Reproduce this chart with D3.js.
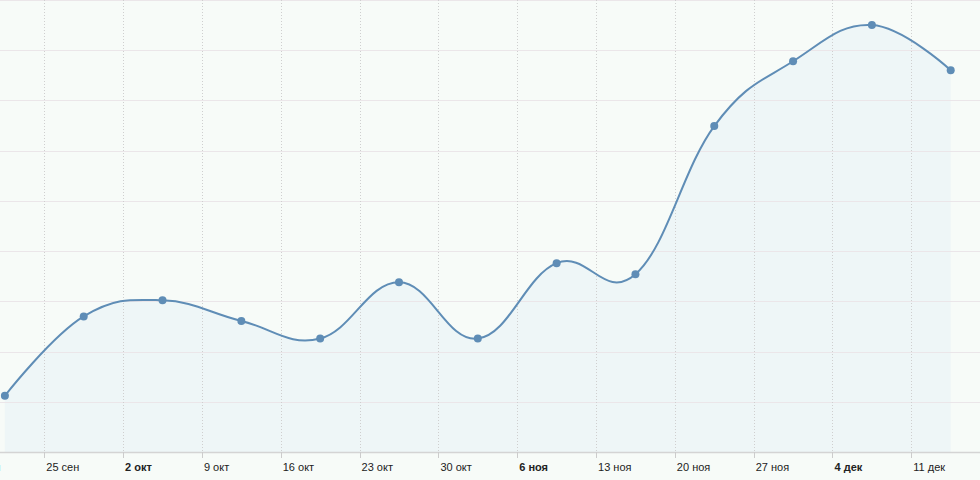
<!DOCTYPE html>
<html>
<head>
<meta charset="utf-8">
<script src="https://cdn.jsdelivr.net/npm/d3@7"></script>
<style>
  html, body { margin: 0; padding: 0; background: #f7fbf8; }
  svg { display: block; }
  text { font-family: "Liberation Sans", Arial, sans-serif; font-size: 11px; }
</style>
</head>
<body>
<svg id="chart" width="980" height="480"></svg>
<script>
// ---- data ----
const pointDates = ["2017-09-21T12:00Z","2017-09-28T12:00Z","2017-10-05T12:00Z","2017-10-12T12:00Z",
  "2017-10-19T12:00Z","2017-10-26T12:00Z","2017-11-02T12:00Z","2017-11-09T12:00Z","2017-11-16T12:00Z",
  "2017-11-23T12:00Z","2017-11-30T12:00Z","2017-12-07T12:00Z","2017-12-14T12:00Z"];
const values = [112, 270, 302, 261, 226, 338, 226, 376, 354, 649, 778, 850, 760];
const tickDates = ["2017-09-18","2017-09-25","2017-10-02","2017-10-09","2017-10-16","2017-10-23",
  "2017-10-30","2017-11-06","2017-11-13","2017-11-20","2017-11-27","2017-12-04","2017-12-11"];
const tickLabels = ["18 сен","25 сен","2 окт","9 окт","16 окт","23 окт","30 окт","6 ноя","13 ноя",
  "20 ноя","27 ноя","4 дек","11 дек"];
const boldTicks = ["2 окт","6 ноя","4 дек"];
const yTicks = [0,100,200,300,400,500,600,700,800,900];

// ---- layout ----
const W = 980, H = 480, plotTop = 0, plotBottom = 452;
const svg = d3.select("#chart");

const x = d3.scaleUtc()
  .domain([new Date("2017-09-25T00:00Z"), new Date("2017-12-11T00:00Z")])
  .range([44.3, 911.3]);
const y = d3.scaleLinear().domain([0, 900]).range([plotBottom, plotTop]);

const data = pointDates.map((d, i) => ({ date: new Date(d), value: values[i] }));
const ticks = tickDates.map((d, i) => ({ date: new Date(d + "T00:00Z"), label: tickLabels[i] }));

// background
svg.append("rect").attr("x", 0).attr("y", 0).attr("width", W).attr("height", H).attr("fill", "#f7fbf8");

// smoothed spline path (control points aligned through each point)
function splinePath(pts, closeToBase) {
  const sm = 1.5, den = sm + 1;
  const p = d3.path();
  const ctrl = [];
  pts.forEach((pt, i) => {
    const px = pt[0], py = pt[1];
    let lcx = px, lcy = py, rcx = px, rcy = py;
    if (i > 0 && i < pts.length - 1) {
      const [lx, ly] = pts[i - 1], [nx, ny] = pts[i + 1];
      lcx = (sm * px + lx) / den; lcy = (sm * py + ly) / den;
      rcx = (sm * px + nx) / den; rcy = (sm * py + ny) / den;
      let corr = 0;
      if (rcx !== lcx) corr = ((rcy - lcy) * (rcx - px)) / (rcx - lcx) + py - rcy;
      lcy += corr; rcy += corr;
    }
    ctrl.push({ lcx, lcy, rcx, rcy });
    if (i === 0) p.moveTo(px, py);
    else {
      const c0 = ctrl[i - 1];
      p.bezierCurveTo(c0.rcx, c0.rcy, lcx, lcy, px, py);
    }
  });
  if (closeToBase) {
    p.lineTo(pts[pts.length - 1][0], plotBottom);
    p.lineTo(pts[0][0], plotBottom);
    p.closePath();
  }
  return p.toString();
}
const pts = data.map(d => [x(d.date), y(d.value)]);

// area
svg.append("path").attr("d", splinePath(pts, true)).attr("fill", "#eef6f7");

// horizontal grid
svg.append("g").selectAll("line").data(yTicks).join("line")
  .attr("x1", 0).attr("x2", W)
  .attr("y1", d => Math.round(y(d)) + 0.5).attr("y2", d => Math.round(y(d)) + 0.5)
  .attr("stroke", "#ebe6e9").attr("stroke-width", 1);

// vertical dotted grid
svg.append("g").selectAll("line").data(ticks).join("line")
  .attr("x1", d => Math.round(x(d.date)) + 0.5).attr("x2", d => Math.round(x(d.date)) + 0.5)
  .attr("y1", 0).attr("y2", plotBottom)
  .attr("stroke", "#cfcfcf").attr("stroke-width", 1).attr("stroke-dasharray", "1,2");

// x axis line and ticks
svg.append("line").attr("x1", 0).attr("x2", W).attr("y1", plotBottom + 0.5).attr("y2", plotBottom + 0.5)
  .attr("stroke", "#d4d4d4").attr("stroke-width", 1.5);
svg.append("g").selectAll("line").data(ticks).join("line")
  .attr("x1", d => Math.round(x(d.date)) + 0.5).attr("x2", d => Math.round(x(d.date)) + 0.5)
  .attr("y1", plotBottom).attr("y2", plotBottom + 6)
  .attr("stroke", "#cccccc");
svg.append("g").selectAll("text").data(ticks).join("text")
  .attr("x", d => x(d.date) + 2)
  .attr("y", 471)
  .attr("fill", (d, i) => i === 0 ? "#4cc3f0" : "#222")
  .attr("font-weight", d => boldTicks.includes(d.label) ? "bold" : "normal")
  .text(d => d.label);

// line
svg.append("path").attr("d", splinePath(pts, false))
  .attr("fill", "none").attr("stroke", "#5f8db6").attr("stroke-width", 2);

// markers
svg.append("g").selectAll("circle").data(data).join("circle")
  .attr("cx", d => x(d.date)).attr("cy", d => y(d.value)).attr("r", 4)
  .attr("fill", "#5f8db6");
</script>
</body>
</html>
